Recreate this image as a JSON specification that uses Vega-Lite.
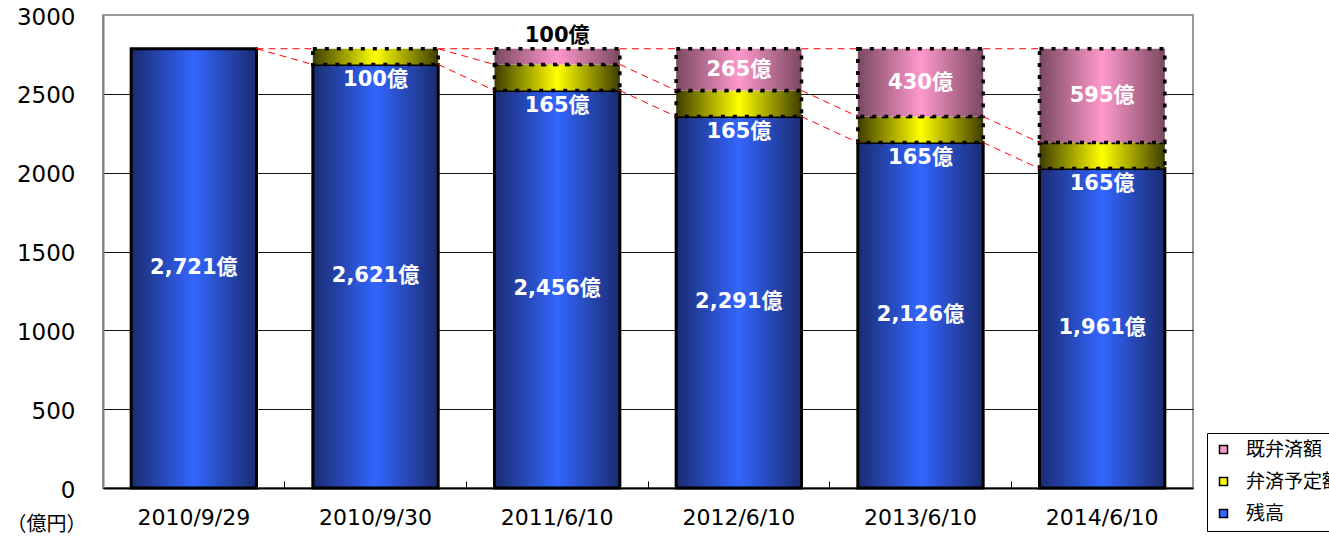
{
  "$schema": "https://vega.github.io/schema/vega-lite/v6.json",
  "width": 1090,
  "height": 473,
  "autosize": {"type": "none"},
  "padding": {"left": 103, "top": 15, "right": 136, "bottom": 53},
  "background": "#ffffff",
  "config": {
    "view": {"stroke": "#999999", "strokeWidth": 2},
    "font": "DejaVu Sans",
    "axisY": {
      "labelFont": "DejaVu Sans",
      "labelFontSize": 23,
      "labelColor": "#000000",
      "labelPadding": 28,
      "labelOffset": 2,
      "ticks": false,
      "domainColor": "#808080",
      "domainWidth": 2,
      "grid": true,
      "gridColor": {"condition": {"test": "datum.value >= 3000", "value": "#999999"}, "value": "#111111"},
      "gridWidth": 1,
      "gridOpacity": 1,
      "titleAngle": 0,
      "titleFont": "Noto Sans CJK JP",
      "titleFontSize": 20,
      "titleFontWeight": "normal",
      "titleColor": "#000000",
      "titleAlign": "left",
      "titleBaseline": "middle",
      "titleX": -97,
      "titleY": 509
    },
    "axisX": {
      "labelAngle": 0,
      "labelFont": "DejaVu Sans",
      "labelFontSize": 22,
      "labelColor": "#000000",
      "labelPadding": 26,
      "domainColor": "#000000",
      "domainWidth": 2,
      "ticks": true,
      "tickColor": "#000000",
      "tickSize": -7,
      "grid": false
    }
  },
  "datasets": {
    "segments": [
      {"date": "2010/9/29", "series": "残高", "value": 2786, "label": "2,721億"},
      {"date": "2010/9/30", "series": "残高", "value": 2686, "label": "2,621億"},
      {"date": "2010/9/30", "series": "弁済予定額", "value": 100, "label": "100億"},
      {"date": "2011/6/10", "series": "残高", "value": 2521, "label": "2,456億"},
      {"date": "2011/6/10", "series": "弁済予定額", "value": 165, "label": "165億"},
      {"date": "2011/6/10", "series": "既弁済額", "value": 100, "label": "100億"},
      {"date": "2012/6/10", "series": "残高", "value": 2356, "label": "2,291億"},
      {"date": "2012/6/10", "series": "弁済予定額", "value": 165, "label": "165億"},
      {"date": "2012/6/10", "series": "既弁済額", "value": 265, "label": "265億"},
      {"date": "2013/6/10", "series": "残高", "value": 2191, "label": "2,126億"},
      {"date": "2013/6/10", "series": "弁済予定額", "value": 165, "label": "165億"},
      {"date": "2013/6/10", "series": "既弁済額", "value": 430, "label": "430億"},
      {"date": "2014/6/10", "series": "残高", "value": 2026, "label": "1,961億"},
      {"date": "2014/6/10", "series": "弁済予定額", "value": 165, "label": "165億"},
      {"date": "2014/6/10", "series": "既弁済額", "value": 595, "label": "595億"}
    ],
    "links": [
      {"date": "2010/9/29", "to": "2010/9/30", "y1": 2786, "y2": 2786},
      {"date": "2010/9/29", "to": "2010/9/30", "y1": 2786, "y2": 2686},
      {"date": "2010/9/30", "to": "2011/6/10", "y1": 2786, "y2": 2786},
      {"date": "2010/9/30", "to": "2011/6/10", "y1": 2786, "y2": 2686},
      {"date": "2010/9/30", "to": "2011/6/10", "y1": 2686, "y2": 2521},
      {"date": "2011/6/10", "to": "2012/6/10", "y1": 2786, "y2": 2786},
      {"date": "2011/6/10", "to": "2012/6/10", "y1": 2686, "y2": 2521},
      {"date": "2011/6/10", "to": "2012/6/10", "y1": 2521, "y2": 2356},
      {"date": "2012/6/10", "to": "2013/6/10", "y1": 2786, "y2": 2786},
      {"date": "2012/6/10", "to": "2013/6/10", "y1": 2521, "y2": 2356},
      {"date": "2012/6/10", "to": "2013/6/10", "y1": 2356, "y2": 2191},
      {"date": "2013/6/10", "to": "2014/6/10", "y1": 2786, "y2": 2786},
      {"date": "2013/6/10", "to": "2014/6/10", "y1": 2356, "y2": 2191},
      {"date": "2013/6/10", "to": "2014/6/10", "y1": 2191, "y2": 2026}
    ]
  },
  "data": {"name": "segments"},
  "transform": [
    {"stack": "value", "groupby": ["date"], "as": ["v0", "v1"]}
  ],
  "encoding": {
    "x": {
      "field": "date",
      "type": "nominal",
      "sort": null,
      "scale": {
        "domain": ["2010/9/29", "2010/9/30", "2011/6/10", "2012/6/10", "2013/6/10", "2014/6/10"],
        "paddingInner": 0.31,
        "paddingOuter": 0.155
      },
      "axis": {"title": null, "bandPosition": -0.2246}
    }
  },
  "layer": [
    {
      "mark": {
        "type": "bar",
        "fill": {"gradient": "linear", "x1": 0, "y1": 0, "x2": 1, "y2": 0,
          "stops": [{"offset": 0, "color": "#1a2b70"}, {"offset": 0.5, "color": "#3366ff"}, {"offset": 1, "color": "#1a2b70"}]},
        "stroke": "#000000",
        "strokeWidth": 3
      },
      "transform": [{"filter": "datum.series === '残高'"}],
      "encoding": {
        "y": {
          "field": "v1",
          "type": "quantitative",
          "scale": {"domain": [0, 3000], "nice": false},
          "axis": {
            "values": [0, 500, 1000, 1500, 2000, 2500, 3000],
            "format": "d",
            "title": "（億円）"
          }
        },
        "y2": {"field": "v0"}
      }
    },
    {
      "mark": {
        "type": "bar",
        "fill": {"gradient": "linear", "x1": 0, "y1": 0, "x2": 1, "y2": 0,
          "stops": [{"offset": 0, "color": "#3d3d00"}, {"offset": 0.5, "color": "#ffff00"}, {"offset": 1, "color": "#3d3d00"}]},
        "stroke": "#000000",
        "strokeWidth": 3.5,
        "strokeDash": [4, 8]
      },
      "transform": [{"filter": "datum.series === '弁済予定額'"}],
      "encoding": {
        "y": {"field": "v1", "type": "quantitative", "scale": {"domain": [0, 3000], "nice": false}},
        "y2": {"field": "v0"}
      }
    },
    {
      "mark": {
        "type": "bar",
        "fill": {"gradient": "linear", "x1": 0, "y1": 0, "x2": 1, "y2": 0,
          "stops": [{"offset": 0, "color": "#7a4860"}, {"offset": 0.5, "color": "#ff99cc"}, {"offset": 1, "color": "#7a4860"}]},
        "stroke": "#000000",
        "strokeWidth": 3.5,
        "strokeDash": [4, 8]
      },
      "transform": [{"filter": "datum.series === '既弁済額'"}],
      "encoding": {
        "y": {"field": "v1", "type": "quantitative", "scale": {"domain": [0, 3000], "nice": false}},
        "y2": {"field": "v0"}
      }
    },
    {
      "data": {"name": "links"},
      "mark": {"type": "rule", "color": "#ff0000", "strokeWidth": 1, "strokeDash": [7, 5]},
      "encoding": {
        "x": {"field": "date", "type": "nominal", "bandPosition": 1},
        "x2": {"field": "to", "bandPosition": 0},
        "y": {"field": "y1", "type": "quantitative", "scale": {"domain": [0, 3000], "nice": false}},
        "y2": {"field": "y2"}
      }
    },
    {
      "transform": [
        {"filter": "datum.series === '残高' || (datum.series === '既弁済額' && datum.value > 100)"},
        {"calculate": "(datum.v0 + datum.v1) / 2", "as": "mid"}
      ],
      "mark": {"type": "text", "font": "DejaVu Sans, Noto Sans CJK JP", "fontSize": 21, "fontWeight": "bold", "color": "#ffffff", "baseline": "middle", "align": "center"},
      "encoding": {
        "y": {"field": "mid", "type": "quantitative", "scale": {"domain": [0, 3000], "nice": false}},
        "text": {"field": "label"}
      }
    },
    {
      "transform": [{"filter": "datum.series === '弁済予定額'"}],
      "mark": {"type": "text", "font": "DejaVu Sans, Noto Sans CJK JP", "fontSize": 21, "fontWeight": "bold", "color": "#ffffff", "baseline": "top", "align": "center", "dy": 4},
      "encoding": {
        "y": {"field": "v0", "type": "quantitative", "scale": {"domain": [0, 3000], "nice": false}},
        "text": {"field": "label"}
      }
    },
    {
      "transform": [{"filter": "datum.series === '既弁済額' && datum.value <= 100"}],
      "mark": {"type": "text", "font": "DejaVu Sans, Noto Sans CJK JP", "fontSize": 21, "fontWeight": "bold", "color": "#000000", "baseline": "bottom", "align": "center", "dy": -3},
      "encoding": {
        "y": {"field": "v1", "type": "quantitative", "scale": {"domain": [0, 3000], "nice": false}},
        "text": {"field": "label"}
      }
    },
    {
      "mark": {"type": "square", "size": 0},
      "encoding": {
        "y": {"field": "v1", "type": "quantitative", "scale": {"domain": [0, 3000], "nice": false}},
        "color": {
          "field": "series",
          "type": "nominal",
          "scale": {"domain": ["既弁済額", "弁済予定額", "残高"], "range": ["#ff99cc", "#ffff00", "#3366ff"]},
          "legend": {
            "orient": "none",
            "legendX": 1104,
            "legendY": 418,
            "title": null,
            "symbolType": "square",
            "symbolSize": 64,
            "symbolStrokeColor": "#000000",
            "symbolStrokeWidth": 1.5,
            "symbolOpacity": 1,
            "labelFont": "Noto Sans CJK JP",
            "labelFontSize": 19,
            "labelColor": "#000000",
            "labelOffset": 13,
            "strokeColor": "#000000",
            "fillColor": "#ffffff",
            "padding": 7,
            "rowPadding": 12
          }
        }
      }
    }
  ]
}
